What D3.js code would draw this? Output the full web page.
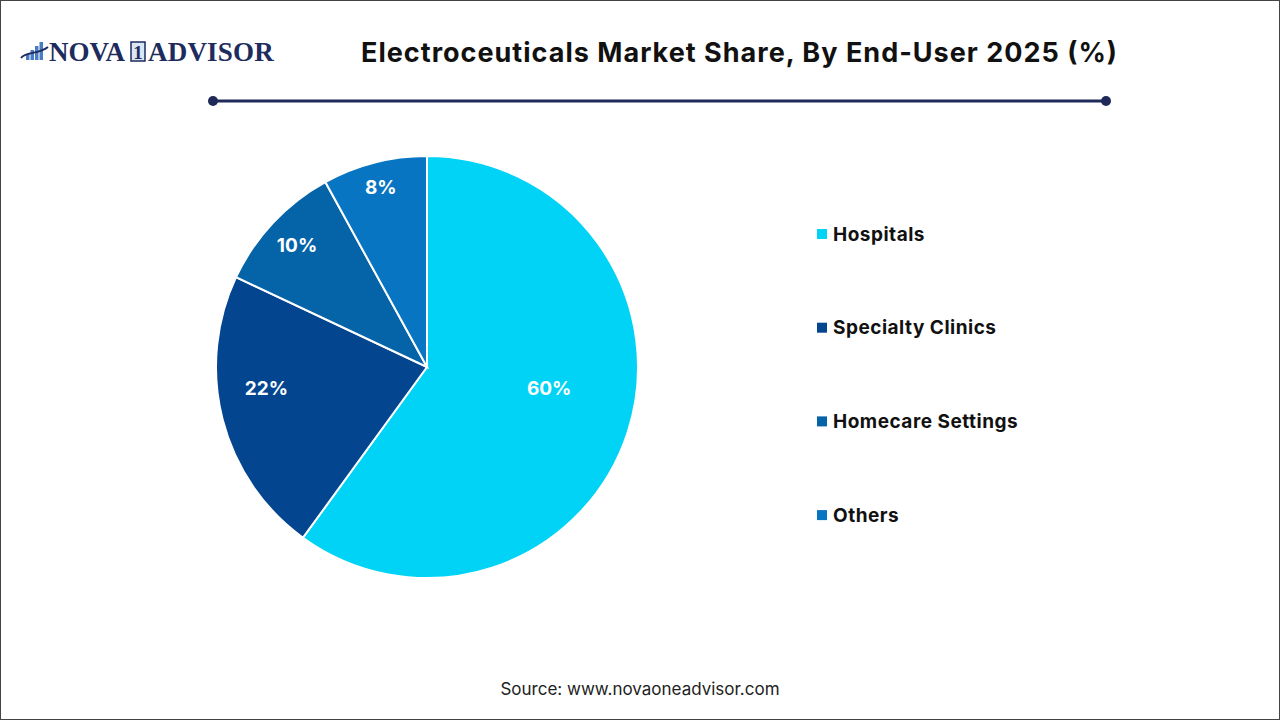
<!DOCTYPE html>
<html>
<head>
<meta charset="utf-8">
<script src="https://cdn.jsdelivr.net/npm/d3@7"></script>
<style>
	html, body { margin: 0; padding: 0; background: #fff; }
	svg { display: block; }
</style>
</head>
<body>
<div id="chart"></div>
<script>
	'use strict';

	// data
	let categories = ['Hospitals', 'Specialty Clinics', 'Homecare Settings', 'Others'];
	let shares = [60, 22, 10, 8];
	let colors = ['#00d3f5', '#03468f', '#0563a8', '#0775c2'];
	// label placement: fraction of radius, and a small turn (deg) off the slice middle
	let labelRadius = [0.588, 0.768, 0.845, 0.88];
	let labelTurn = [-8, 7, 0, 0];

	let W = 1280, H = 720;
	let svg = d3.select('#chart').append('svg')
		.attr('width', W)
		.attr('height', H);

	// frame
	svg.append('rect')
		.attr('x', 0.5).attr('y', 0.5)
		.attr('width', W - 1).attr('height', H - 1)
		.attr('fill', '#fff')
		.attr('stroke', '#444')
		.attr('stroke-width', 1);

	// ---------- logo ----------
	let logo = svg.append('g').attr('transform', 'translate(20,52)');
	let barData = [6, 10, 14, 18];
	logo.selectAll('rect.bar')
		.data(barData)
		.enter().append('rect')
		.attr('class', 'bar')
		.attr('x', function (d, i) { return 6 + i * 4.5; })
		.attr('y', function (d) { return 8 - d; })
		.attr('width', 3.5)
		.attr('height', function (d) { return d; })
		.attr('fill', '#4a7cc4');
	logo.append('path')
		.attr('d', 'M 1 6 C 6 -1, 18 3, 28 -5')
		.attr('fill', 'none')
		.attr('stroke', '#1d2b5e')
		.attr('stroke-width', 2);
	logo.append('text')
		.attr('x', 29).attr('y', 9)
		.attr('font-family', '"Liberation Serif", "DejaVu Serif", serif')
		.attr('font-weight', 'bold')
		.attr('font-size', 27)
		.attr('fill', '#1d2b5e')
		.text('NOVA');
	logo.append('rect')
		.attr('x', 111).attr('y', -10)
		.attr('width', 14).attr('height', 19)
		.attr('fill', '#dbe6f4')
		.attr('stroke', '#1d2b5e')
		.attr('stroke-width', 1.5);
	logo.append('text')
		.attr('x', 118).attr('y', 7)
		.attr('text-anchor', 'middle')
		.attr('font-family', '"Liberation Serif", "DejaVu Serif", serif')
		.attr('font-weight', 'bold')
		.attr('font-size', 19)
		.attr('fill', '#1d2b5e')
		.text('1');
	logo.append('text')
		.attr('x', 128).attr('y', 9)
		.attr('font-family', '"Liberation Serif", "DejaVu Serif", serif')
		.attr('font-weight', 'bold')
		.attr('font-size', 27)
		.attr('letter-spacing', 0.2)
		.attr('fill', '#1d2b5e')
		.text('ADVISOR');

	// ---------- title ----------
	svg.append('text')
		.attr('x', 739).attr('y', 62)
		.attr('text-anchor', 'middle')
		.attr('font-family', 'Inter, "Noto Sans", sans-serif')
		.attr('font-weight', 'bold')
		.attr('font-size', 27)
		.attr('textLength', 756)
		.attr('lengthAdjust', 'spacing')
		.attr('fill', '#111')
		.text('Electroceuticals Market Share, By End-User 2025 (%)');

	svg.append('line')
		.attr('x1', 213).attr('x2', 1106)
		.attr('y1', 101).attr('y2', 101)
		.attr('stroke', '#1f2a58')
		.attr('stroke-width', 3);
	svg.selectAll('circle.end')
		.data([213, 1106])
		.enter().append('circle')
		.attr('class', 'end')
		.attr('cx', function (d) { return d; })
		.attr('cy', 101)
		.attr('r', 5)
		.attr('fill', '#1f2a58');

	// ---------- pie ----------
	let cx = 427, cy = 367, R = 211;
	let pie = d3.pie().sort(null).value(function (d) { return d; });
	let arcs = pie(shares);
	let arc = d3.arc().innerRadius(0).outerRadius(R);

	let g = svg.append('g').attr('transform', 'translate(' + cx + ',' + cy + ')');
	g.selectAll('path.slice')
		.data(arcs)
		.enter().append('path')
		.attr('class', 'slice')
		.attr('d', arc)
		.attr('fill', function (d, i) { return colors[i]; })
		.attr('stroke', '#fff')
		.attr('stroke-width', 2);

	g.selectAll('text.lbl')
		.data(arcs)
		.enter().append('text')
		.attr('class', 'lbl')
		.attr('transform', function (d, i) {
			let a = (d.startAngle + d.endAngle) / 2 + labelTurn[i] * Math.PI / 180;
			let r = R * labelRadius[i];
			return 'translate(' + (r * Math.sin(a)) + ',' + (-r * Math.cos(a)) + ')';
		})
		.attr('dy', '0.35em')
		.attr('text-anchor', 'middle')
		.attr('font-family', 'Inter, "Noto Sans", sans-serif')
		.attr('font-weight', 'bold')
		.attr('font-size', 19)
		.attr('fill', '#fff')
		.text(function (d) { return d.data + '%'; });

	// ---------- legend ----------
	let legend = svg.append('g').attr('transform', 'translate(817,234)');
	let item = legend.selectAll('g.item')
		.data(categories)
		.enter().append('g')
		.attr('class', 'item')
		.attr('transform', function (d, i) { return 'translate(0,' + (i * 93.7) + ')'; });
	item.append('rect')
		.attr('x', 0).attr('y', -5)
		.attr('width', 10).attr('height', 10)
		.attr('fill', function (d, i) { return colors[i]; });
	item.append('text')
		.attr('x', 16)
		.attr('dy', '0.35em')
		.attr('font-family', 'Inter, "Noto Sans", sans-serif')
		.attr('font-weight', 'bold')
		.attr('font-size', 19)
		.attr('letter-spacing', 0.5)
		.attr('fill', '#111')
		.text(function (d) { return d; });

	// ---------- source ----------
	svg.append('text')
		.attr('x', 640).attr('y', 695)
		.attr('text-anchor', 'middle')
		.attr('font-family', 'Inter, "Noto Sans", sans-serif')
		.attr('font-size', 17)
		.attr('fill', '#222')
		.text('Source: www.novaoneadvisor.com');
</script>
</body>
</html>
